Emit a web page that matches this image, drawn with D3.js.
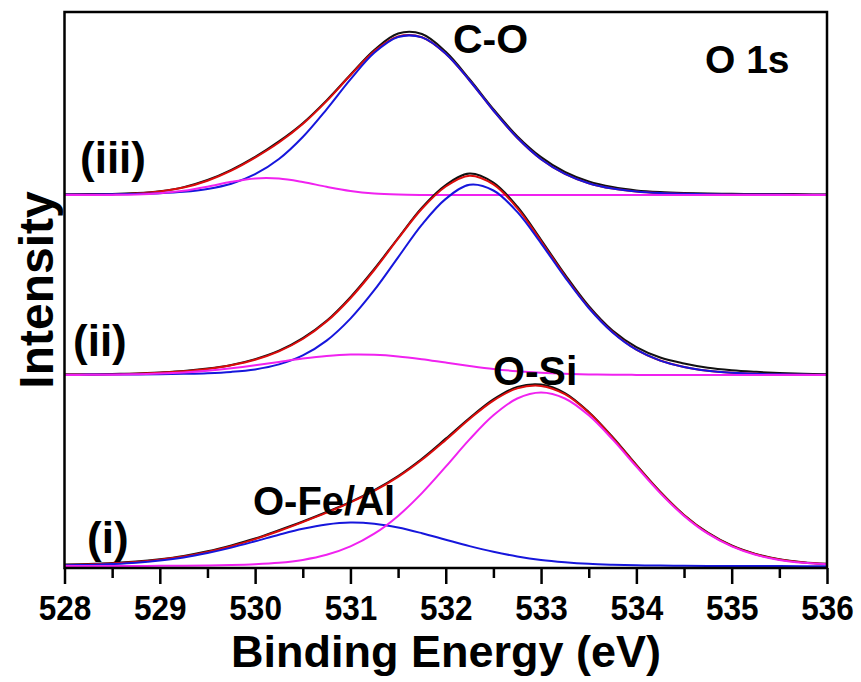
<!DOCTYPE html>
<html>
<head>
<meta charset="utf-8">
<script src="https://cdn.jsdelivr.net/npm/d3@7"></script>
<style>
  body { margin: 0; background: #fff; }
  svg text { font-family: "Liberation Sans", Arial, sans-serif; font-weight: bold; fill: #000; }
</style>
</head>
<body>
<div id="chart"></div>
<script>
// binding energy grid (eV), 0.25 eV steps
var energy = d3.range(0, 33).map(function(i){ return 528 + i * 0.25; });

// vertical offsets of the stacked spectra (a.u.)
var offsets = { i: 1.5, ii: 193, iii: 373 };

// (i) spectrum
var dataI    = [1.9, 2.6, 3.4, 4.9, 7.3, 10.6, 15.2, 21.1, 28.0, 36.3, 45.0, 54.5, 64.6, 76.4, 90.5, 107.8, 127.9, 148.6, 167.2, 179.6, 182.0, 173.5, 154.6, 129.5, 101.6, 74.8, 51.6, 33.8, 21.0, 12.6, 7.3, 4.3, 2.7];
var envI     = [1.6, 2.1, 3.0, 4.4, 6.7, 9.9, 14.5, 20.3, 27.4, 35.5, 44.4, 53.8, 64.1, 75.6, 89.6, 106.7, 126.6, 147.5, 165.9, 178.1, 180.6, 172.3, 153.9, 128.9, 101.0, 74.3, 51.3, 33.4, 20.6, 12.2, 7.0, 4.1, 2.5];
var feAlI    = [1.15, 1.6, 2.5, 3.8, 6.0, 9.1, 13.5, 18.9, 25.2, 31.8, 37.8, 42.1, 44.0, 42.8, 39.0, 33.3, 26.8, 20.4, 14.7, 10.1, 6.6, 4.3, 2.7, 1.8, 1.2, 0.9, 0.7, 0.6, 0.5, 0.45, 0.4, 0.35, 0.3];
var siI      = [0.4, 0.5, 0.5, 0.6, 0.65, 0.8, 1.0, 1.4, 2.2, 3.7, 6.6, 11.7, 20.1, 32.8, 50.6, 73.4, 99.8, 127.1, 151.2, 168.0, 174.0, 168.0, 151.2, 127.1, 99.8, 73.4, 50.6, 32.8, 20.1, 11.7, 6.6, 3.7, 2.2];

// (ii) spectrum
var dataII   = [0.6, 0.5, 1.0, 1.5, 2.5, 3.9, 6.4, 10.1, 15.9, 24.3, 36.9, 54.2, 77.9, 106.1, 137.0, 167.4, 190.0, 201.5, 192.4, 168.5, 135.2, 100.6, 69.0, 44.4, 27.9, 17.5, 11.6, 7.3, 4.8, 3.2, 2.0, 1.2, 0.8];
var envII    = [0.4, 0.5, 0.8, 1.3, 2.2, 3.7, 6.0, 9.8, 15.3, 23.7, 36.0, 53.4, 76.8, 105.0, 136.3, 166.2, 188.5, 199.3, 190.6, 166.9, 133.8, 99.0, 67.6, 42.9, 25.4, 14.5, 8.1, 4.3, 2.3, 1.2, 0.7, 0.4, 0.3];
var mainII   = [0.3, 0.4, 0.5, 0.6, 0.8, 1.2, 1.8, 3.1, 5.6, 10.6, 19.6, 34.4, 56.4, 84.8, 117.7, 150.4, 176.1, 190.2, 184.5, 163.1, 131.6, 97.8, 67.0, 42.6, 25.3, 14.4, 8.1, 4.3, 2.3, 1.2, 0.7, 0.4, 0.3];
var lowII    = [0.05, 0.14, 0.3, 0.7, 1.4, 2.5, 4.2, 6.7, 9.7, 13.1, 16.4, 19.0, 20.4, 20.2, 18.6, 15.8, 12.4, 9.1, 6.1, 3.8, 2.2, 1.2, 0.6, 0.3, 0.1, 0.05, 0, 0, 0, 0, 0, 0, 0];

// (iii) spectrum
var dataIII  = [0.6, 0.9, 1.0, 1.9, 3.8, 7.9, 15.0, 25.2, 38.1, 53.6, 71.8, 94.6, 120.2, 145.0, 161.5, 161.0, 143.2, 115.8, 85.9, 58.9, 37.9, 23.0, 13.5, 7.9, 4.6, 2.9, 2.0, 1.5, 1.3, 1.0, 1.1, 0.7, 0.5];
var envIII   = [0.4, 0.5, 0.8, 1.6, 3.5, 7.4, 14.3, 24.4, 37.4, 52.5, 71.0, 93.9, 119.7, 143.8, 158.5, 157.7, 141.3, 114.5, 84.5, 57.2, 35.8, 21.1, 11.8, 6.4, 3.4, 1.9, 1.2, 0.8, 0.6, 0.5, 0.4, 0.3, 0.3];
var coIII    = [0.4, 0.5, 0.7, 1.1, 1.8, 3.2, 6.0, 11.2, 20.8, 36.0, 58.0, 85.7, 115.6, 142.2, 158.0, 157.6, 141.3, 114.5, 84.5, 57.2, 35.8, 21.1, 11.8, 6.4, 3.4, 1.9, 1.2, 0.8, 0.6, 0.5, 0.4, 0.3, 0.3];
var lowIII   = [0, 0, 0.1, 0.5, 1.7, 4.2, 8.3, 13.2, 16.6, 16.5, 13.0, 8.2, 4.1, 1.6, 0.5, 0.1, 0, 0, 0, 0, 0, 0, 0, 0, 0, 0, 0, 0, 0, 0, 0, 0, 0];

var majorTicks = [528, 529, 530, 531, 532, 533, 534, 535, 536];
var minorTicks = [528.5, 529.5, 530.5, 531.5, 532.5, 533.5, 534.5, 535.5];

var colors = { data: '#111111', env: '#dc0c0c', blue: '#1616dc', magenta: '#f022f0' };

var width = 861, height = 682;
var margin = {top: 12, right: 34, bottom: 114, left: 64.5};

var svg = d3.select('#chart').append('svg')
    .attr('width', width)
    .attr('height', height);

var x = d3.scaleLinear().domain([528, 536]).range([margin.left, width - margin.right]);
var y = d3.scaleLinear().domain([0, 556]).range([height - margin.bottom, margin.top]);

function drawCurve(values, offset, color)
{
    var line = d3.line()
        .x(function(d, i){ return x(energy[i]); })
        .y(function(d){ return y(d + offset); })
        .curve(d3.curveCatmullRom);
    svg.append('path')
        .datum(values)
        .attr('d', line)
        .attr('fill', 'none')
        .attr('stroke', color)
        .attr('stroke-width', 2);
}

//spectra, each with data, envelope and components
drawCurve(dataIII, offsets.iii, colors.data);
drawCurve(envIII, offsets.iii, colors.env);
drawCurve(coIII, offsets.iii, colors.blue);
drawCurve(lowIII, offsets.iii, colors.magenta);

drawCurve(dataII, offsets.ii, colors.data);
drawCurve(envII, offsets.ii, colors.env);
drawCurve(mainII, offsets.ii, colors.blue);
drawCurve(lowII, offsets.ii, colors.magenta);

drawCurve(dataI, offsets.i, colors.data);
drawCurve(envI, offsets.i, colors.env);
drawCurve(feAlI, offsets.i, colors.blue);
drawCurve(siI, offsets.i, colors.magenta);

//frame
svg.append('rect')
    .attr('x', x(528))
    .attr('y', margin.top)
    .attr('width', x(536) - x(528))
    .attr('height', y(0) - margin.top)
    .attr('fill', 'none')
    .attr('stroke', '#000')
    .attr('stroke-width', 2.5);

//x axis
var xAxis = svg.append('g')
    .attr('transform', 'translate(0,' + y(0) + ')')
    .call(d3.axisBottom(x).tickValues(majorTicks).tickSize(16).tickPadding(11).tickFormat(d3.format('d')));
xAxis.select('.domain').remove();
xAxis.selectAll('line').attr('stroke', '#000').attr('stroke-width', 2.5);
xAxis.selectAll('text')
    .style('font-size', '35px')
    .style('font-family', '"Liberation Sans", Arial, sans-serif')
    .style('font-weight', 'bold')
    .attr('fill', '#000')
    .attr('transform', 'scale(0.9,1)');

var xMinor = svg.append('g')
    .attr('transform', 'translate(0,' + y(0) + ')')
    .call(d3.axisBottom(x).tickValues(minorTicks).tickSize(10).tickFormat(''));
xMinor.select('.domain').remove();
xMinor.selectAll('line').attr('stroke', '#000').attr('stroke-width', 2.5);

//axis titles
svg.append('text')
    .attr('x', 446)
    .attr('y', 667)
    .attr('text-anchor', 'middle')
    .style('font-size', '45px')
    .text('Binding Energy (eV)');

svg.append('text')
    .attr('transform', 'translate(53,290) rotate(-90)')
    .attr('text-anchor', 'middle')
    .style('font-size', '48px')
    .text('Intensity');

//labels
function label(txt, lx, ly, size)
{
    svg.append('text')
        .attr('x', lx)
        .attr('y', ly)
        .style('font-size', size + 'px')
        .text(txt);
}
label('O 1s', 705, 73, 39);
label('C-O', 453, 53, 41);
label('O-Si', 493, 385, 41);
label('O-Fe/Al', 253, 515, 40);
label('(iii)', 80, 173, 44);
label('(ii)', 73, 356, 44);
label('(i)', 87, 553, 44);
</script>
</body>
</html>
